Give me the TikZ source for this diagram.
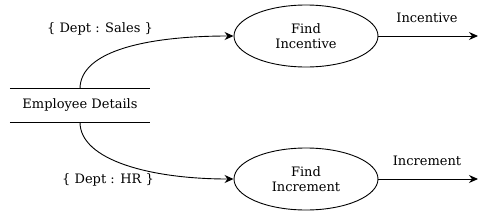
\documentclass[tikz,border=0pt]{standalone}
\usepackage{fontspec}
\setmainfont{DejaVu Serif}
\usetikzlibrary{arrows.meta,shapes.geometric}
\begin{document}
\begin{tikzpicture}[x=1pt,y=-1pt,
  every node/.style={font=\fontsize{13}{15.5}\selectfont},
  proc/.style={draw,ellipse,minimum width=144pt,minimum height=62pt,align=center,line width=0.9pt},
  flow/.style={line width=0.9pt,-{Stealth[length=9pt,width=8pt,inset=3pt]}},
  lbl/.style={inner sep=0pt}]
\useasboundingbox (0,0) rectangle (485,215);
\node[proc] (p1) at (306,36) {Find\\Incentive};
\node[proc] (p2) at (306,179) {Find\\Increment};
\node[inner sep=0pt,minimum width=140pt,minimum height=33pt] (ds) at (80,105.5) {Employee Details};
\draw[line width=0.9pt] (ds.north west) -- (ds.north east);
\draw[line width=0.9pt] (ds.south west) -- (ds.south east);
\coordinate (o1) at (478,36);
\coordinate (o2) at (478,179);
\draw[flow] (ds.north) .. controls (80,50) and (150,36) .. (p1.west);
\draw[flow] (ds.south) .. controls (80,160) and (150,179) .. (p2.west);
\draw[flow] (p1.east) -- (o1);
\draw[flow] (p2.east) -- (o2);
\node[lbl] (l1) at (100,29) {\{ Dept : Sales \}};
\node[lbl] (l2) at (108,180) {\{ Dept : HR \}};
\node[lbl] (l3) at (427,18) {Incentive};
\node[lbl] (l4) at (427,161) {Increment};
\end{tikzpicture}
\end{document}
